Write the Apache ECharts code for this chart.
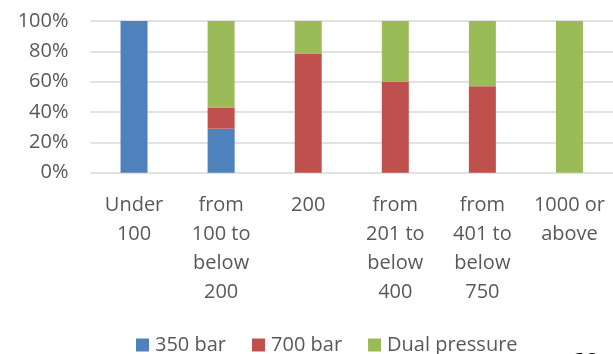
<!DOCTYPE html>
<html>
<head>
<meta charset="utf-8">
<style>
  html, body { margin: 0; padding: 0; background: #ffffff; }
  #chart { width: 613px; height: 354px; }
</style>
<script src="https://cdn.jsdelivr.net/npm/echarts@6/dist/echarts.min.js"></script>
</head>
<body>
<div id="chart"></div>
<script>
// Station capacity bands (kg/day) and share of dispensing pressure, in percent
const categories = [
  'Under\n100',
  'from\n100 to\nbelow\n200',
  '200',
  'from\n201 to\nbelow\n400',
  'from\n401 to\nbelow\n750',
  '1000 or\nabove'
];
const bar350 = [100, 29, 0, 0, 0, 0];
const bar700 = [0, 14, 78.5, 60, 57, 0];
const dualPressure = [0, 57, 21.5, 40, 43, 100];
const seriesNames = ['350 bar', '700 bar', 'Dual pressure'];
const yTicks = [0, 20, 40, 60, 80, 100];
const pageNumber = '60';

const FONT = '"Open Sans", "Noto Sans", sans-serif';
const TEXT = '#595959';
const GRID = '#d9d9d9';

const chart = echarts.init(document.getElementById('chart'), null, { renderer: 'canvas' });

chart.setOption({
  animation: false,
  backgroundColor: '#ffffff',
  color: ['#4F81BD', '#C0504D', '#9BBB59'],
  textStyle: { fontFamily: FONT },
  grid: { left: 90.5, top: 21, width: 528, height: 151.7 },
  legend: {
    data: seriesNames,
    left: 131,
    top: 330,
    icon: 'rect',
    itemWidth: 13,
    itemHeight: 13,
    itemGap: 26,
    textStyle: { fontFamily: FONT, fontSize: 20, color: TEXT, padding: [0, 0, 0, 1] }
  },
  xAxis: {
    type: 'category',
    data: categories,
    axisLine: { show: false },
    axisTick: { show: false },
    axisLabel: {
      interval: 0,
      margin: 18,
      fontFamily: FONT,
      fontSize: 20,
      lineHeight: 29,
      color: TEXT
    }
  },
  yAxis: {
    type: 'value',
    min: yTicks[0],
    max: yTicks[yTicks.length - 1],
    interval: 20,
    axisLine: { show: false },
    axisTick: { show: false },
    axisLabel: {
      margin: 22,
      fontFamily: FONT,
      fontSize: 20,
      color: TEXT,
      formatter: '{value}%'
    },
    splitLine: { lineStyle: { color: GRID, width: 1.6 } }
  },
  series: [
    { name: seriesNames[0], type: 'bar', stack: 'share', barWidth: 27, data: bar350 },
    { name: seriesNames[1], type: 'bar', stack: 'share', barWidth: 27, data: bar700 },
    { name: seriesNames[2], type: 'bar', stack: 'share', barWidth: 27, data: dualPressure }
  ],
  graphic: [{
    type: 'text',
    left: 570,
    top: 351,
    style: { text: pageNumber, fontFamily: FONT, fontSize: 26, fill: '#000000' }
  }]
});
</script>
</body>
</html>
